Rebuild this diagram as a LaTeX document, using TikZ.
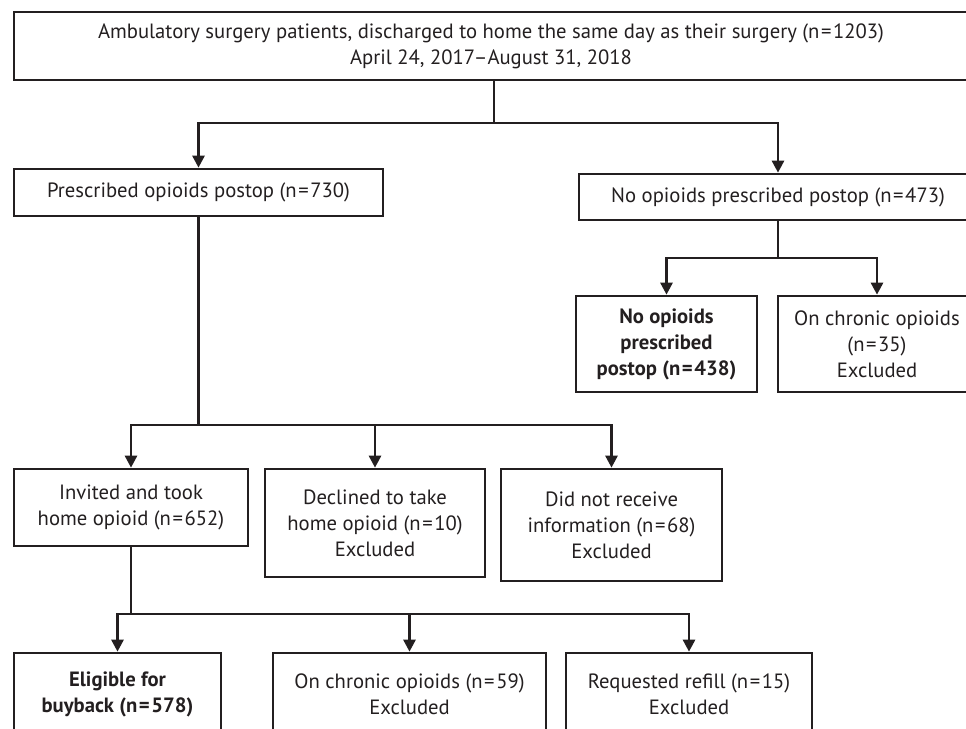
\documentclass[tikz,border=0pt]{standalone}
\usepackage{fontspec}
\setmainfont{PT Sans}
\usetikzlibrary{arrows.meta}
\definecolor{ink}{HTML}{231F20}
\begin{document}
\begin{tikzpicture}[x=0.75pt,y=-0.75pt,
  box/.style={draw=ink, line width=2pt, inner sep=0pt, align=center,
    font=\fontsize{15.5}{19.5}\selectfont, text=ink},
  conn/.style={draw=ink, line width=2pt, -{Triangle[length=9pt,width=9pt]}},
  plain/.style={draw=ink, line width=2pt}]
\useasboundingbox (0,0) rectangle (966,728);
\newcommand{\nn}{n\kern1.2pt=\kern1.2pt}
\node[box, minimum width=715.5pt, minimum height=51pt] (top) at (491,46)
  {Ambulatory surgery patients, discharged to home the same day as their surgery (\nn1203)\\April 24, 2017--August 31, 2018};
\node[box, minimum width=276.75pt, minimum height=35.25pt] (A) at (198.5,192.5)
  {Prescribed opioids postop (\nn730)};
\node[box, minimum width=298.5pt, minimum height=34.5pt] (B) at (778,197)
  {No opioids prescribed postop (\nn473)};
\node[box, minimum width=135.75pt, minimum height=72pt, font=\fontsize{15.5}{19.5}\selectfont\bfseries] (C) at (666.5,344)
  {No opioids\\prescribed\\postop (\nn438)};
\node[box, minimum width=148.5pt, minimum height=72pt] (D) at (877,344)
  {On chronic opioids\\(\nn35)\\Excluded};
\node[box, minimum width=175.5pt, minimum height=57.75pt] (E) at (131,507.5)
  {Invited and took\\home opioid (\nn652)};
\node[box, minimum width=165pt, minimum height=81pt] (F) at (375,523)
  {Declined to take\\home opioid (\nn10)\\Excluded};
\node[box, minimum width=165.75pt, minimum height=84pt] (G) at (611.5,525)
  {Did not receive\\information (\nn68)\\Excluded};
\node[box, minimum width=155.25pt, minimum height=61.5pt, font=\fontsize{15.5}{19.5}\selectfont\bfseries] (H) at (117.5,694)
  {Eligible for\\buyback (\nn578)};
\node[box, minimum width=204.75pt, minimum height=61.5pt] (I) at (409.5,694)
  {On chronic opioids (\nn59)\\Excluded};
\node[box, minimum width=184.5pt, minimum height=61.5pt] (J) at (689,694)
  {Requested refill (\nn15)\\Excluded};
\coordinate (j1) at (494,123);
\coordinate (j2) at (198.5,425);
\coordinate (j3) at (778,258);
\coordinate (j4) at (131,614);
\draw[plain] (top.south -| j1) -- (j1);
\draw[conn] (j1) -| (A.north);
\draw[conn] (j1) -| (B.north);
\draw[plain] (A.south) -- (j2);
\draw[conn] (j2) -| (E.north);
\draw[conn] (j2) -| (F.north);
\draw[conn] (j2) -| (G.north);
\draw[plain] (B.south) -- (j3);
\draw[conn] (j3) -| (C.north);
\draw[conn] (j3) -| (D.north);
\draw[plain] (E.south) -- (j4);
\draw[conn] (j4) -| (H.north);
\draw[conn] (j4) -| (I.north);
\draw[conn] (j4) -| (J.north);
\end{tikzpicture}
\end{document}
